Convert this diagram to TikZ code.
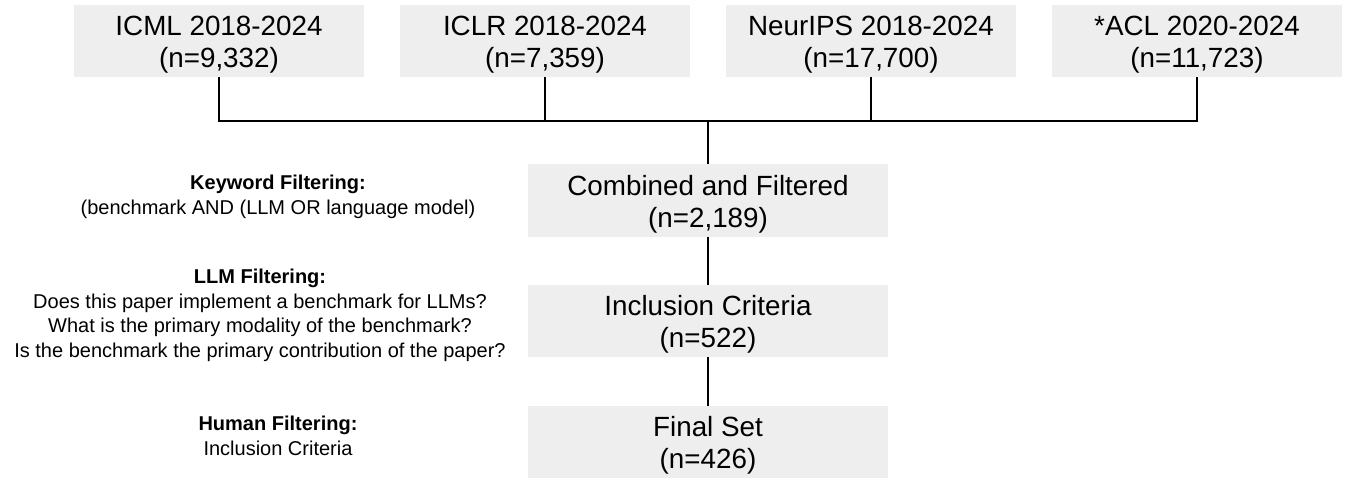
\documentclass[tikz,border=0pt]{standalone}
\usepackage{fontspec}
\setmainfont{Liberation Sans}
\definecolor{boxgray}{HTML}{EEEEEE}
\begin{document}
\begin{tikzpicture}[x=1pt,y=-1pt,
  box/.style={fill=boxgray,draw=none,inner sep=0pt,align=center,
    minimum height=72pt,font=\fontsize{27.8}{32}\selectfont,
    text height=59.5pt},
  topbox/.style={box,minimum width=290pt},
  midbox/.style={box,minimum width=360pt},
  side/.style={align=center,inner sep=0pt,font=\fontsize{20}{24.5}\selectfont},
  conn/.style={draw=black,line width=1.3pt}]
\useasboundingbox (0,0) rectangle (1351,481);
\node[topbox] (icml) at (219,41) {ICML 2018-2024\\(n=9,332)};
\node[topbox] (iclr) at (545,41) {ICLR 2018-2024\\(n=7,359)};
\node[topbox] (neur) at (871,41) {NeurIPS 2018-2024\\(n=17,700)};
\node[topbox] (acl) at (1197,41) {*ACL 2020-2024\\(n=11,723)};
\node[midbox] (comb) at (708,200.5) {Combined and Filtered\\(n=2,189)};
\node[midbox] (incl) at (708,321) {Inclusion Criteria\\(n=522)};
\node[midbox] (fin) at (708,442) {Final Set\\(n=426)};
\coordinate (bus) at (708,121);
\draw[conn] (icml.south) |- (bus) -| (acl.south);
\draw[conn] (iclr.south) -- (iclr.south |- bus);
\draw[conn] (neur.south) -- (neur.south |- bus);
\draw[conn] (bus) -- (comb.north);
\draw[conn] (comb.south) -- (incl.north);
\draw[conn] (incl.south) -- (fin.north);
\node[side] (kw) at (278,197) {\textbf{Keyword Filtering:}\\(benchmark AND (LLM OR language model)};
\node[side] (llm) at (260,315.5) {\textbf{LLM Filtering:}\\Does this paper implement a benchmark for LLMs?\\What is the primary modality of the benchmark?\\Is the benchmark the primary contribution of the paper?};
\node[side] (hum) at (278,436) {\textbf{Human Filtering:}\\Inclusion Criteria};
\end{tikzpicture}
\end{document}
